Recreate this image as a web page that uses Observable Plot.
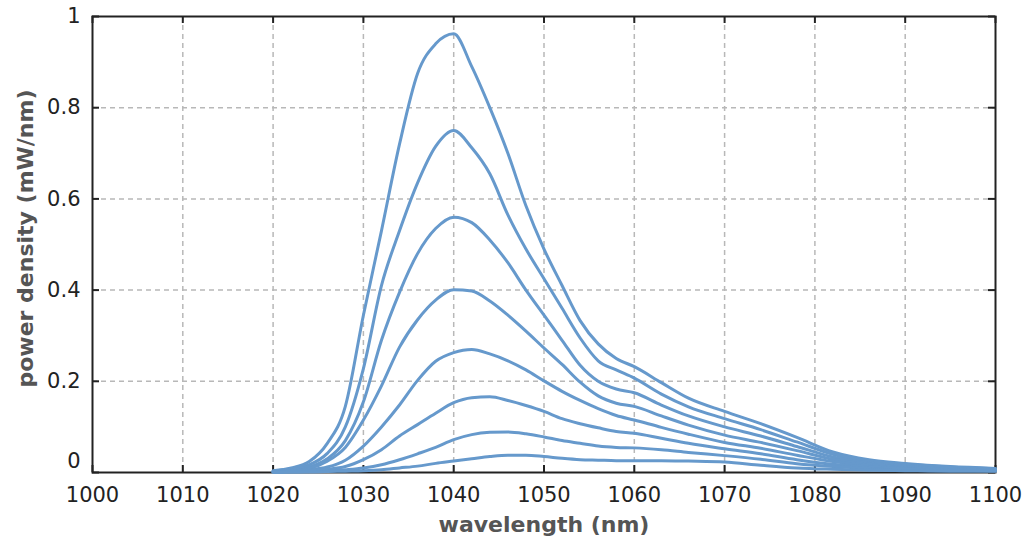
<!DOCTYPE html>
<html><head><meta charset="utf-8">
<script src="https://cdn.jsdelivr.net/npm/d3@7"></script>
<script src="https://cdn.jsdelivr.net/npm/@observablehq/plot@0.6"></script>
<style>html,body{margin:0;padding:0;background:#fff}</style>
</head><body><div id="chart"></div>
<script>
const wavelengths = [1020,1022,1024,1026,1028,1030,1032,1034,1036,1038,1040,1042,1044,1046,1048,1050,1052,1054,1056,1058,1060,1063,1066,1070,1074,1078,1082,1086,1090,1095,1100];
const series1 = [0.004,0.010,0.024,0.064,0.145,0.345,0.53,0.72,0.875,0.94,0.962,0.89,0.80,0.70,0.585,0.49,0.41,0.333,0.282,0.25,0.232,0.197,0.163,0.134,0.107,0.077,0.045,0.028,0.020,0.013,0.009];
const series2 = [0.003,0.008,0.017,0.042,0.10,0.228,0.41,0.53,0.635,0.715,0.75,0.712,0.655,0.565,0.49,0.425,0.36,0.295,0.245,0.225,0.207,0.172,0.144,0.118,0.094,0.067,0.040,0.025,0.018,0.012,0.008];
const series3 = [0.002,0.006,0.012,0.030,0.07,0.155,0.29,0.395,0.48,0.535,0.56,0.548,0.51,0.46,0.40,0.345,0.29,0.235,0.20,0.183,0.175,0.148,0.124,0.100,0.080,0.057,0.034,0.021,0.016,0.011,0.007];
const series4 = [0.002,0.004,0.009,0.025,0.055,0.115,0.19,0.275,0.335,0.378,0.401,0.398,0.376,0.345,0.31,0.273,0.237,0.198,0.168,0.152,0.145,0.124,0.104,0.082,0.066,0.048,0.029,0.018,0.013,0.009,0.006];
const series5 = [0.001,0.003,0.006,0.012,0.027,0.058,0.10,0.148,0.202,0.244,0.263,0.27,0.26,0.245,0.225,0.201,0.178,0.158,0.14,0.125,0.115,0.099,0.084,0.066,0.053,0.038,0.024,0.015,0.011,0.008,0.005];
const series6 = [0.001,0.002,0.004,0.007,0.013,0.028,0.05,0.08,0.105,0.13,0.153,0.164,0.166,0.158,0.147,0.134,0.118,0.107,0.098,0.09,0.086,0.075,0.064,0.052,0.041,0.028,0.018,0.012,0.009,0.006,0.004];
const series7 = [0.001,0.001,0.002,0.003,0.006,0.010,0.017,0.028,0.041,0.055,0.072,0.083,0.088,0.089,0.085,0.078,0.07,0.064,0.058,0.055,0.054,0.05,0.044,0.037,0.029,0.019,0.013,0.009,0.007,0.005,0.004];
const series8 = [0.0005,0.001,0.001,0.002,0.003,0.004,0.006,0.010,0.014,0.020,0.025,0.030,0.035,0.038,0.038,0.035,0.031,0.028,0.027,0.026,0.026,0.026,0.025,0.023,0.016,0.010,0.007,0.005,0.004,0.003,0.003];

const xTicks = [1000,1010,1020,1030,1040,1050,1060,1070,1080,1090,1100];
const yTicks = [0,0.2,0.4,0.6,0.8,1];
const yTickLabels = ["0","0.2","0.4","0.6","0.8","1"];
const xTitle = "wavelength (nm)";
const yTitle = "power density (mW/nm)";

const seriesList = [series1,series2,series3,series4,series5,series6,series7,series8];
const rows = seriesList.flatMap((s, i) => s.map((v, j) => ({wl: wavelengths[j], p: v, id: i})));

const gridStyle = {stroke: "#b8b8b8", strokeOpacity: 1, strokeWidth: 1.5, strokeDasharray: "5,4"};
const tickStyle = {stroke: "#222", strokeWidth: 2};

const chart = Plot.plot({
  width: 1026, height: 539,
  marginLeft: 92, marginRight: 31, marginTop: 16, marginBottom: 67,
  x: {domain: [1000, 1100]},
  y: {domain: [0, 1]},
  style: {fontFamily: "DejaVu Sans", fontSize: "21px", background: "#fff", color: "#222"},
  marks: [
    Plot.gridX(xTicks.slice(1, -1), gridStyle),
    Plot.gridY(yTicks.slice(1, -1), gridStyle),
    Plot.frame({stroke: "#222", strokeWidth: 2}),
    Plot.tickX(xTicks, {x: d => d, ...tickStyle, insetTop: 449}),
    Plot.tickX(xTicks, {x: d => d, ...tickStyle, insetBottom: 449}),
    Plot.tickY(yTicks, {y: d => d, ...tickStyle, insetRight: 896}),
    Plot.tickY(yTicks, {y: d => d, ...tickStyle, insetLeft: 896}),
    Plot.line(rows, {x: "wl", y: "p", z: "id", stroke: "#6699cc", strokeWidth: 3, curve: "monotone-x"}),
    Plot.axisX(xTicks, {tickSize: 0, tickPadding: 15, label: null, fontSize: 21, tickFormat: d => String(d)}),
    Plot.axisY(yTicks.slice(1), {tickSize: 0, tickPadding: 12, label: null, fontSize: 21, tickFormat: d => yTickLabels[yTicks.indexOf(d)]}),
    Plot.axisY([0], {tickSize: 0, tickPadding: 12, label: null, fontSize: 21, dy: -11, tickFormat: d => yTickLabels[0]}),
    Plot.text([yTitle], {frameAnchor: "left", textAnchor: "middle", lineAnchor: "middle", dx: -67, dy: -6, rotate: -90, fontWeight: "bold", fill: "#555", fontSize: 22}),
    Plot.text([xTitle], {frameAnchor: "bottom", textAnchor: "middle", lineAnchor: "middle", dy: 52, fontWeight: "bold", fill: "#555", fontSize: 22})
  ]
});
document.getElementById("chart").appendChild(chart);
</script>
</body></html>
